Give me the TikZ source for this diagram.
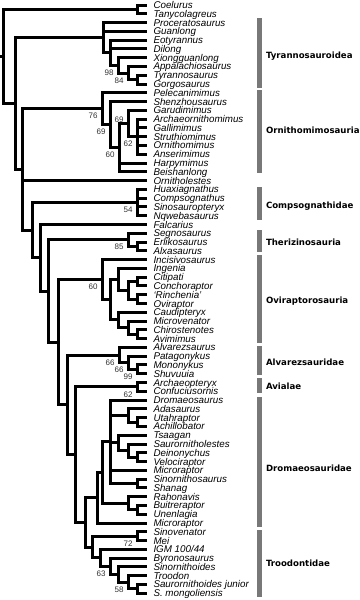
\documentclass[tikz,border=0pt]{standalone}
\usepackage{fontspec}
\setmainfont{Liberation Sans}
\newfontfamily\cladefont{DejaVu Sans}
\definecolor{cladegray}{RGB}{120,120,120}

\begin{document}
\begin{tikzpicture}[x=1pt, y=-1pt, line width=3pt,
        taxon/.style={anchor=west, inner xsep=5pt, inner ysep=0pt, text height=7pt, text depth=0pt,
            font=\fontsize{9.8}{10}\selectfont\itshape},
        boot/.style={anchor=north east, inner sep=0pt, xshift=-3pt, yshift=-3pt,
            font=\fontsize{8}{8}\selectfont, text=black!80},
        bootup/.style={boot, anchor=south east, yshift=2pt},
        clade/.style={anchor=west, inner sep=0pt, text height=6.5pt, text depth=0pt,
            font=\cladefont\bfseries\fontsize{8.6}{9}\selectfont}]

    \useasboundingbox (0,0) rectangle (359,600);

    \newcommand{\taxon}[3]{\node[taxon] (#1) at (147,#2) {#3};}
    \newcommand{\totip}[2]{\draw (#1) |- (#2.west);}
    \newcommand{\tonode}[2]{\draw (#1) |- (#2);}
    \newcommand{\cladebar}[5]{
        \fill[cladegray] (257,#2) rectangle (261.5,#3);
        \node[clade] (#1) at (264.5,#4) {#5};
    }

    % taxa
    \taxon{coelurus}{5.00}{Coelurus}
    \taxon{tanycolagreus}{13.78}{Tanycolagreus}
    \taxon{proceratosaurus}{22.56}{Proceratosaurus}
    \taxon{guanlong}{31.34}{Guanlong}
    \taxon{eotyrannus}{40.12}{Eotyrannus}
    \taxon{dilong}{48.90}{Dilong}
    \taxon{xiongguanlong}{57.68}{Xiongguanlong}
    \taxon{appalachiosaurus}{66.46}{Appalachiosaurus}
    \taxon{tyrannosaurus}{75.24}{Tyrannosaurus}
    \taxon{gorgosaurus}{84.02}{Gorgosaurus}
    \taxon{pelecanimimus}{92.80}{Pelecanimimus}
    \taxon{shenzhousaurus}{101.58}{Shenzhousaurus}
    \taxon{garudimimus}{110.36}{Garudimimus}
    \taxon{archaeornithomimus}{119.14}{Archaeornithomimus}
    \taxon{gallimimus}{127.92}{Gallimimus}
    \taxon{struthiomimus}{136.70}{Struthiomimus}
    \taxon{ornithomimus}{145.48}{Ornithomimus}
    \taxon{anserimimus}{154.26}{Anserimimus}
    \taxon{harpymimus}{163.04}{Harpymimus}
    \taxon{beishanlong}{171.82}{Beishanlong}
    \taxon{ornitholestes}{180.60}{Ornitholestes}
    \taxon{huaxiagnathus}{189.38}{Huaxiagnathus}
    \taxon{compsognathus}{198.16}{Compsognathus}
    \taxon{sinosauropteryx}{206.94}{Sinosauropteryx}
    \taxon{nqwebasaurus}{215.72}{Nqwebasaurus}
    \taxon{falcarius}{224.50}{Falcarius}
    \taxon{segnosaurus}{233.28}{Segnosaurus}
    \taxon{erlikosaurus}{242.06}{Erlikosaurus}
    \taxon{alxasaurus}{250.84}{Alxasaurus}
    \taxon{incisivosaurus}{259.62}{Incisivosaurus}
    \taxon{ingenia}{268.40}{Ingenia}
    \taxon{citipati}{277.18}{Citipati}
    \taxon{conchoraptor}{285.96}{Conchoraptor}
    \taxon{rinchenia}{294.74}{`Rinchenia'}
    \taxon{oviraptor}{303.52}{Oviraptor}
    \taxon{caudipteryx}{312.30}{Caudipteryx}
    \taxon{microvenator}{321.08}{Microvenator}
    \taxon{chirostenotes}{329.86}{Chirostenotes}
    \taxon{avimimus}{338.64}{Avimimus}
    \taxon{alvarezsaurus}{347.42}{Alvarezsaurus}
    \taxon{patagonykus}{356.20}{Patagonykus}
    \taxon{mononykus}{364.98}{Mononykus}
    \taxon{shuvuuia}{373.76}{Shuvuuia}
    \taxon{archaeopteryx}{382.54}{Archaeopteryx}
    \taxon{confuciusornis}{391.32}{Confuciusornis}
    \taxon{dromaeosaurus}{400.10}{Dromaeosaurus}
    \taxon{adasaurus}{408.88}{Adasaurus}
    \taxon{utahraptor}{417.66}{Utahraptor}
    \taxon{achillobator}{426.44}{Achillobator}
    \taxon{tsaagan}{435.22}{Tsaagan}
    \taxon{saurornitholestes}{444.00}{Saurornitholestes}
    \taxon{deinonychus}{452.78}{Deinonychus}
    \taxon{velociraptor}{461.56}{Velociraptor}
    \taxon{microraptor}{470.34}{Microraptor}
    \taxon{sinornithosaurus}{479.12}{Sinornithosaurus}
    \taxon{shanag}{487.90}{Shanag}
    \taxon{rahonavis}{496.68}{Rahonavis}
    \taxon{buitreraptor}{505.46}{Buitreraptor}
    \taxon{unenlagia}{514.24}{Unenlagia}
    \taxon{microraptorB}{523.02}{Microraptor}
    \taxon{sinovenator}{531.80}{Sinovenator}
    \taxon{mei}{540.58}{Mei}
    \taxon{igm}{549.36}{IGM 100/44}
    \taxon{byronosaurus}{558.14}{Byronosaurus}
    \taxon{sinornithoides}{566.92}{Sinornithoides}
    \taxon{troodon}{575.70}{Troodon}
    \taxon{sjunior}{584.48}{Saurornithoides junior}
    \taxon{smongoliensis}{593.26}{S. mongoliensis}

    % branching points
    \coordinate (stub) at (0,56.47);
    \coordinate (root) at (3,56.47);
    \coordinate (ct) at (137,9.39);
    \coordinate (aa) at (15,103.55);
    \coordinate (ty1) at (103,37.65);
    \coordinate (ty2) at (110,52.74);
    \coordinate (ty3) at (118,65.36);
    \coordinate (ty4) at (128,73.05);
    \coordinate (ty5) at (137,79.63);
    \coordinate (bb) at (22,169.45);
    \coordinate (om1) at (102,108.72);
    \coordinate (om2) at (110,124.63);
    \coordinate (om3) at (119,147.68);
    \coordinate (om4) at (128,123.53);
    \coordinate (om5) at (137,136.70);
    \coordinate (cc) at (32,230.17);
    \coordinate (cp) at (137,202.55);
    \coordinate (fa) at (40,257.79);
    \coordinate (mr) at (48,291.07);
    \coordinate (tz1) at (128,239.87);
    \coordinate (tz2) at (137,246.45);
    \coordinate (pe) at (58,342.27);
    \coordinate (ov1) at (102,279.65);
    \coordinate (ov2) at (110,299.68);
    \coordinate (ov3) at (118,279.38);
    \coordinate (ov4) at (128,290.35);
    \coordinate (ov5) at (137,281.57);
    \coordinate (ov6) at (137,299.13);
    \coordinate (ov7) at (118,319.99);
    \coordinate (ov8) at (128,327.67);
    \coordinate (ov9) at (137,334.25);
    \coordinate (mn) at (67,404.89);
    \coordinate (al1) at (119,355.10);
    \coordinate (al2) at (128,362.79);
    \coordinate (al3) at (137,369.37);
    \coordinate (pv) at (75,454.67);
    \coordinate (av) at (137,386.93);
    \coordinate (dn) at (85,522.41);
    \coordinate (dra) at (97,497.78);
    \coordinate (drb) at (102,472.54);
    \coordinate (drc) at (110,441.81);
    \coordinate (ada1) at (128,415.47);
    \coordinate (ada2) at (137,422.05);
    \coordinate (tsa1) at (118,442.90);
    \coordinate (tsa2) at (128,450.59);
    \coordinate (tsa3) at (137,457.17);
    \coordinate (sin1) at (137,483.51);
    \coordinate (un1) at (128,503.27);
    \coordinate (un2) at (137,509.85);
    \coordinate (tr1) at (92,547.03);
    \coordinate (trm) at (137,536.19);
    \coordinate (tr2) at (100,557.87);
    \coordinate (tr3) at (110,566.38);
    \coordinate (tr4) at (118,574.61);
    \coordinate (tr5) at (128,582.29);
    \coordinate (tr6) at (137,588.87);

    % branches
    \draw (stub) -- (root);
    \tonode{root}{ct} \tonode{root}{aa}
    \totip{ct}{coelurus} \totip{ct}{tanycolagreus}
    \tonode{aa}{ty1} \tonode{aa}{bb}
    \totip{ty1}{proceratosaurus} \totip{ty1}{guanlong} \tonode{ty1}{ty2}
    \totip{ty2}{eotyrannus} \totip{ty2}{dilong} \tonode{ty2}{ty3}
    \totip{ty3}{xiongguanlong} \tonode{ty3}{ty4}
    \totip{ty4}{appalachiosaurus} \tonode{ty4}{ty5}
    \totip{ty5}{tyrannosaurus} \totip{ty5}{gorgosaurus}
    \tonode{bb}{om1} \totip{bb}{ornitholestes} \tonode{bb}{cc}
    \totip{om1}{pelecanimimus} \tonode{om1}{om2}
    \totip{om2}{shenzhousaurus} \tonode{om2}{om3}
    \tonode{om3}{om4} \totip{om3}{harpymimus} \totip{om3}{beishanlong}
    \totip{om4}{garudimimus} \tonode{om4}{om5}
    \totip{om5}{archaeornithomimus} \totip{om5}{gallimimus} \totip{om5}{struthiomimus}
    \totip{om5}{ornithomimus} \totip{om5}{anserimimus}
    \tonode{cc}{cp} \tonode{cc}{fa}
    \totip{cp}{huaxiagnathus} \totip{cp}{compsognathus}
    \totip{cp}{sinosauropteryx} \totip{cp}{nqwebasaurus}
    \totip{fa}{falcarius} \tonode{fa}{mr}
    \tonode{mr}{tz1} \tonode{mr}{pe}
    \totip{tz1}{segnosaurus} \tonode{tz1}{tz2}
    \totip{tz2}{erlikosaurus} \totip{tz2}{alxasaurus}
    \tonode{pe}{ov1} \tonode{pe}{mn}
    \totip{ov1}{incisivosaurus} \tonode{ov1}{ov2}
    \tonode{ov2}{ov3} \tonode{ov2}{ov7}
    \totip{ov3}{ingenia} \tonode{ov3}{ov4}
    \tonode{ov4}{ov5} \tonode{ov4}{ov6}
    \totip{ov5}{citipati} \totip{ov5}{conchoraptor}
    \totip{ov6}{rinchenia} \totip{ov6}{oviraptor}
    \totip{ov7}{caudipteryx} \tonode{ov7}{ov8}
    \totip{ov8}{microvenator} \tonode{ov8}{ov9}
    \totip{ov9}{chirostenotes} \totip{ov9}{avimimus}
    \tonode{mn}{al1} \tonode{mn}{pv}
    \totip{al1}{alvarezsaurus} \tonode{al1}{al2}
    \totip{al2}{patagonykus} \tonode{al2}{al3}
    \totip{al3}{mononykus} \totip{al3}{shuvuuia}
    \tonode{pv}{av} \tonode{pv}{dn}
    \totip{av}{archaeopteryx} \totip{av}{confuciusornis}
    \tonode{dn}{dra} \tonode{dn}{tr1}
    \tonode{dra}{drb} \totip{dra}{microraptorB}
    \tonode{drb}{drc} \tonode{drb}{un1}
    \totip{drc}{dromaeosaurus} \tonode{drc}{ada1} \tonode{drc}{tsa1}
    \totip{drc}{microraptor} \tonode{drc}{sin1}
    \totip{ada1}{adasaurus} \tonode{ada1}{ada2}
    \totip{ada2}{utahraptor} \totip{ada2}{achillobator}
    \totip{tsa1}{tsaagan} \tonode{tsa1}{tsa2}
    \totip{tsa2}{saurornitholestes} \tonode{tsa2}{tsa3}
    \totip{tsa3}{deinonychus} \totip{tsa3}{velociraptor}
    \totip{sin1}{sinornithosaurus} \totip{sin1}{shanag}
    \totip{un1}{rahonavis} \tonode{un1}{un2}
    \totip{un2}{buitreraptor} \totip{un2}{unenlagia}
    \tonode{tr1}{trm} \tonode{tr1}{tr2}
    \totip{trm}{sinovenator} \totip{trm}{mei}
    \totip{tr2}{igm} \tonode{tr2}{tr3}
    \totip{tr3}{byronosaurus} \tonode{tr3}{tr4}
    \totip{tr4}{sinornithoides} \tonode{tr4}{tr5}
    \totip{tr5}{troodon} \tonode{tr5}{tr6}
    \totip{tr6}{sjunior} \totip{tr6}{smongoliensis}

    % support values
    \node[boot] (s-ty3) at (ty3) {98};
    \node[boot] (s-ty4) at (ty4) {84};
    \node[boot] (s-om1) at (om1) {76};
    \node[boot] (s-om2) at (om2) {69};
    \node[boot] (s-om3) at (om3) {60};
    \node[bootup] (s-om4) at (om4) {69};
    \node[boot] (s-om5) at (om5) {62};
    \node[boot] (s-cp) at (cp) {54};
    \node[boot] (s-tz1) at (tz1) {85};
    \node[boot] (s-ov1) at (ov1) {60};
    \node[boot] (s-al1) at (al1) {66};
    \node[boot] (s-al2) at (al2) {66};
    \node[boot] (s-al3) at (al3) {99};
    \node[boot] (s-av) at (av) {62};
    \node[boot] (s-trm) at (trm) {72};
    \node[boot] (s-tr3) at (tr3) {63};
    \node[boot] (s-tr5) at (tr5) {58};

    % clades
    \cladebar{tyr}{18}{88}{55}{Tyrannosauroidea}
    \cladebar{orn}{90}{173}{130}{Ornithomimosauria}
    \cladebar{com}{187}{220}{205}{Compsognathidae}
    \cladebar{the}{230}{252}{242}{Therizinosauria}
    \cladebar{ovi}{255}{343}{300}{Oviraptorosauria}
    \cladebar{alv}{346}{375}{362}{Alvarezsauridae}
    \cladebar{avi}{378}{393}{386}{Avialae}
    \cladebar{dro}{397}{527}{468}{Dromaeosauridae}
    \cladebar{tro}{530}{597}{563}{Troodontidae}
\end{tikzpicture}
\end{document}
